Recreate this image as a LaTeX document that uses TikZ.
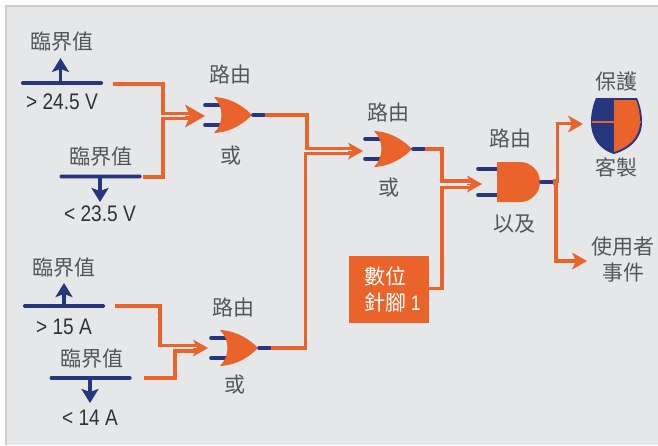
\documentclass[tikz,border=0pt]{standalone}
\usepackage{fontspec}
\setmainfont{Noto Sans CJK TC}
\newfontfamily\numfont[FakeStretch=0.85]{Liberation Sans}
\usepackage{xcolor}
\usetikzlibrary{arrows.meta}
\definecolor{sigorange}{RGB}{233, 99, 42}
\definecolor{sigblue}{RGB}{38, 55, 127}
\definecolor{panelgray}{RGB}{230, 231, 233}
\definecolor{labelgray}{RGB}{85, 86, 88}
\tikzset{
    wire/.style={sigorange, line width=3.4pt, miter limit=10},
    bigtip/.style={sigorange, line width=0pt, -{Stealth[length=20pt, width=23pt, inset=5pt]}},
    smalltip/.style={sigorange, line width=0pt, -{Stealth[length=15pt, width=17pt, inset=4pt]}},
    stub/.style={sigblue, line width=3.6pt, line cap=round},
    thbar/.style={sigblue, fill=sigblue, rounded corners=1.2pt, inner sep=0pt, minimum height=3.6pt, minimum width=82pt},
    tharrow/.style={sigblue, line width=3.2pt, -{Stealth[length=14pt, width=17pt, inset=3pt]}},
    cjk/.style={labelgray, inner sep=0pt, font=\fontsize{21}{25}\selectfont},
    value/.style={black!80, inner sep=0pt, font=\numfont\fontsize{22.5}{26}\selectfont},
    orgate/.pic={
        \draw[stub] (-47,-10) -- (-28,-10);
        \draw[stub] (-47,10) -- (-28,10);
        \fill[sigorange] (-38,-18) .. controls (-20,-17) and (-8,-8) .. (0,0)
            .. controls (-8,8) and (-20,17) .. (-38,18)
            .. controls (-28,8) and (-28,-8) .. (-38,-18) -- cycle;
        \draw[stub] (1,0) -- (12,0);
        \coordinate (-out) at (13,0);
    },
    andgate/.pic={
        \draw[stub] (-62,-13) -- (-43,-13);
        \draw[stub] (-62,13) -- (-43,13);
        \fill[sigorange] (-43,-20) -- (-20,-20) .. controls (-9,-20) and (0,-11) .. (0,0)
            .. controls (0,11) and (-9,20) .. (-20,20) -- (-43,20) -- cycle;
        \draw[stub] (1,0) -- (12,0);
        \coordinate (-out) at (13,0);
    },
}

\begin{document}
\begin{tikzpicture}[x=1pt, y=-1pt]
    \useasboundingbox (0,0) rectangle (658,445);
    \fill[panelgray] (5,5) rectangle (658,445);
    \draw[black!20, line width=2pt] (5.5,445) -- (5.5,5.5) -- (658,5.5);

    % thresholds
    \node[cjk] (limA) at (62,42) {臨界值};
    \node[thbar] (barA) at (62,83) {};
    \node[value] (valA) at (62,102) {> 24.5 V};
    \node[cjk] (limB) at (100.5,157) {臨界值};
    \node[thbar] (barB) at (100.5,176.5) {};
    \node[value] (valB) at (100,214) {< 23.5 V};
    \node[cjk] (limC) at (64,268) {臨界值};
    \node[thbar] (barC) at (64,306) {};
    \node[value] (valC) at (64,327) {> 15 A};
    \node[cjk] (limD) at (92,359) {臨界值};
    \node[thbar] (barD) at (90.5,378) {};
    \node[value] (valD) at (90,418) {< 14 A};
    \coordinate (upA) at (60.5,58);
    \coordinate (dnB) at (100,202);
    \coordinate (upC) at (64,283);
    \coordinate (dnD) at (90,403);
    \draw[tharrow] (barA.center -| upA) -- (upA);
    \draw[tharrow] (barB.center -| dnB) -- (dnB);
    \draw[tharrow] (barC.center -| upC) -- (upC);
    \draw[tharrow] (barD.center -| dnD) -- (dnD);

    % gates
    \pic (orA) at (252,115) {orgate};
    \pic (orB) at (412,149) {orgate};
    \pic (orC) at (258,348) {orgate};
    \pic (andA) at (540,182) {andgate};
    \node[cjk] (routeA) at (230,75) {路由};
    \node[cjk] (orlabelA) at (230.5,156) {或};
    \node[cjk] (routeB) at (388,113) {路由};
    \node[cjk] (orlabelB) at (389,188) {或};
    \node[cjk] (routeC) at (233,308) {路由};
    \node[cjk] (orlabelC) at (235,385) {或};
    \node[cjk] (routeD) at (510,139) {路由};
    \node[cjk] (andlabel) at (514,224) {以及};

    \node[fill=sigorange, minimum width=80pt, minimum height=67pt, inner sep=0pt] (pin) at (389,289.5) {};
    \node[white, inner sep=0pt, align=left, anchor=west, font=\fontsize{21}{26}\selectfont] (pinlabel) at (364,289.5) {數位\\針腳 {\numfont 1}};

    % wires
    \coordinate (startA) at (113,84);
    \coordinate (startB) at (143,177);
    \coordinate (startC) at (115,306);
    \coordinate (startD) at (144,378);
    \coordinate (tipA) at (205,116);
    \coordinate (tipB) at (363,151);
    \coordinate (tipC) at (208,348);
    \coordinate (tipD) at (482,184);
    \coordinate (tipProt) at (583,124);
    \coordinate (tipUser) at (587,261);

    \draw[wire] (startA) -- (163,84) -- (163,113.5) -- ++(28,0);
    \draw[wire] (startB) -- (163,177) -- (163,118.7) -- ++(28,0);
    \draw[bigtip] (185,116) -- (tipA);

    \draw[wire] (orA-out) -- (307,115) -- (307,148.2) -- ++(47,0);
    \draw[wire] (orC-out) -- (305.5,348) -- (305.5,153.7) -- ++(48,0);
    \draw[smalltip] (348,151) -- (tipB);

    \draw[wire] (startC) -- (160,306) -- (160,345.7) -- ++(40,0);
    \draw[wire] (startD) -- (175,378) -- (175,351) -- ++(25,0);
    \draw[smalltip] (193,348) -- (tipC);

    \draw[wire] (orB-out) -- (442,149) -- (442,181) -- ++(30,0);
    \draw[wire] ([yshift=1pt]pin.east) -- (442,288.5) -- (442,187.5) -- ++(30,0);
    \draw[smalltip] (467,184) -- (tipD);

    \draw[wire] ([yshift=1pt]andA-out) -- (557.5,181) -- (557.5,123.5) -- (572,123.5);
    \draw[smalltip] (568,124) -- (tipProt);
    \draw[wire] ([yshift=-1pt]andA-out) -- (556,183) -- (556,261) -- (576,261);
    \draw[smalltip] (572,261) -- (tipUser);

    % shield
    \fill[sigblue] (596,98) -- (637,98) .. controls (640,105) and (642,113) .. (642,122)
        .. controls (642,140) and (628,150) .. (614,154)
        .. controls (600,150) and (591,138) .. (591,122)
        .. controls (591,113) and (593,105) .. (596,98) -- cycle;
    \fill[sigorange] (614,100) -- (636,100) .. controls (638.5,106) and (640,114) .. (640,122)
        .. controls (640,138) and (627,148) .. (614,152) -- cycle;
    \draw[sigorange, line width=2.6pt] (591.5,122) -- (641,122);
    \node[cjk] (prot) at (616,81) {保護};
    \node[cjk] (cust) at (616,167) {客製};
    \node[cjk] (userA) at (623,247) {使用者};
    \node[cjk] (userB) at (623,273) {事件};
\end{tikzpicture}
\end{document}
